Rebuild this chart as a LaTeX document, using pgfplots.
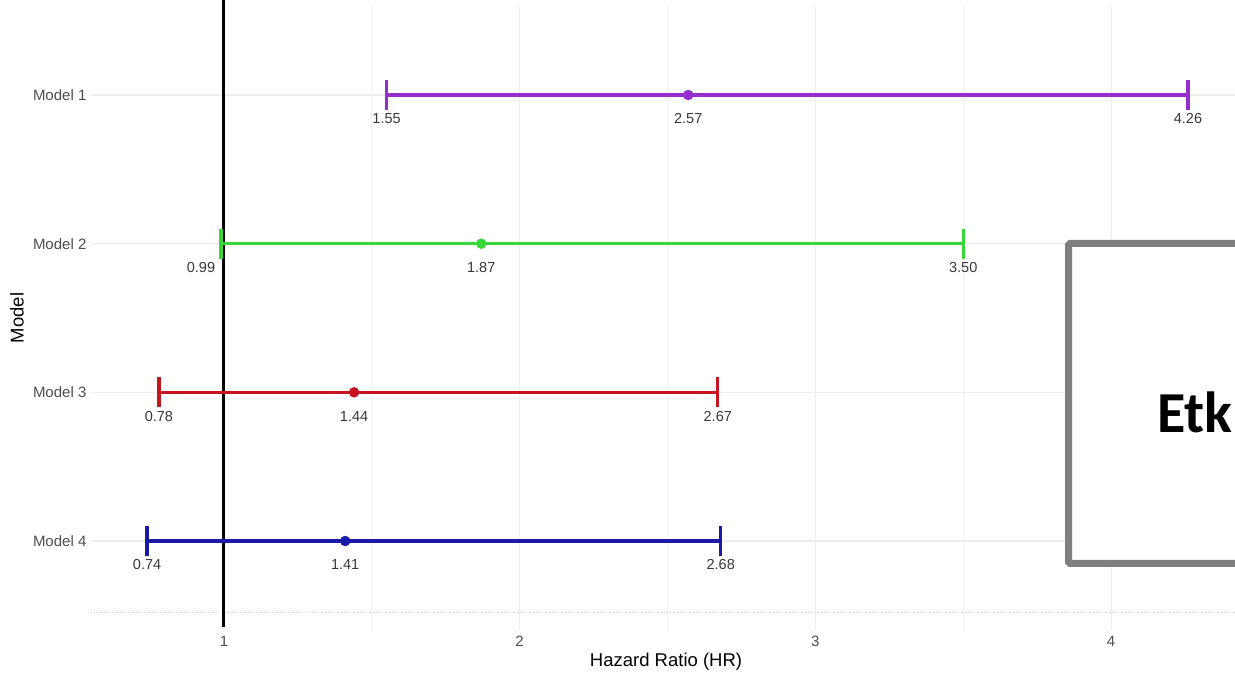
\documentclass[border=0pt]{standalone}
\usepackage{pgfplots}
\pgfplotsset{compat=1.18}
\usepackage{fontspec}
\setmainfont{Liberation Sans}
\newfontfamily\carlito{Carlito}
\definecolor{cPurple}{RGB}{150,45,205}
\definecolor{cGreen}{RGB}{55,215,55}
\definecolor{cRed}{RGB}{200,20,30}
\definecolor{cBlue}{RGB}{25,25,170}
\definecolor{tickgray}{RGB}{77,77,77}
\definecolor{labgray}{RGB}{55,55,55}
\begin{document}
\begin{tikzpicture}[x=1pt,y=1pt]
\begin{axis}[
  scale only axis, width=1150.3pt, height=624.4pt,
  xmin=0.55, xmax=4.44, ymin=0.4, ymax=4.6,
  axis line style={draw=none}, tick style={draw=none},
  xtick={1,2,3,4}, minor xtick={1.5,2.5,3.5},
  ytick={1,2,3,4}, yticklabels={Model 4,Model 3,Model 2,Model 1},
  grid=both,
  major grid style={color=black!7, line width=1.1pt},
  minor grid style={color=black!5, line width=0.8pt},
  clip=false,
  /pgf/number format/assume math mode=true,
  ticklabel style={font=\fontsize{15}{18}\selectfont, text=tickgray},
  xticklabel style={yshift=-2pt},
  yticklabel style={xshift=-1pt},
  xlabel={Hazard Ratio (HR)}, ylabel={Model},
  label style={font=\fontsize{18.5}{22}\selectfont, text=black},
  xlabel style={at={(axis description cs:0.5,0)}, anchor=center, yshift=-32pt},
  ylabel style={at={(axis description cs:-0.0642,0.5)}, anchor=center},
]
\coordinate (O) at (rel axis cs:0,0);
% dotted baseline
\draw[black!18, dotted, line width=1.2pt] (axis cs:0.55,0.52) -- (axis cs:4.44,0.52);
% reference line at HR = 1
\draw[black, line width=3pt] (axis cs:1,0.42) -- (axis cs:1,4.64);
% Model 1
\addplot[cPurple, line width=3.2pt, mark=|, mark size=15pt] coordinates {(1.55,4) (4.26,4)};
\addplot[cPurple, only marks, mark=*, mark size=5pt] coordinates {(2.57,4)};
% Model 2
\addplot[cGreen, line width=3.2pt, mark=|, mark size=15pt] coordinates {(0.99,3) (3.50,3)};
\addplot[cGreen, only marks, mark=*, mark size=5pt] coordinates {(1.87,3)};
% Model 3
\addplot[cRed, line width=3.2pt, mark=|, mark size=15pt] coordinates {(0.78,2) (2.67,2)};
\addplot[cRed, only marks, mark=*, mark size=5pt] coordinates {(1.44,2)};
% Model 4
\addplot[cBlue, line width=3.2pt, mark=|, mark size=15pt] coordinates {(0.74,1) (2.68,1)};
\addplot[cBlue, only marks, mark=*, mark size=5pt] coordinates {(1.41,1)};
% value labels
\begin{scope}[every node/.style={font=\fontsize{14.5}{17}\selectfont, text=labgray, anchor=center, yshift=-24pt}]
\node at (axis cs:1.55,4) {1.55};
\node at (axis cs:2.57,4) {2.57};
\node at (axis cs:4.26,4) {4.26};
\node[xshift=-20pt] at (axis cs:0.99,3) {0.99};
\node at (axis cs:1.87,3) {1.87};
\node at (axis cs:3.50,3) {3.50};
\node at (axis cs:0.78,2) {0.78};
\node at (axis cs:1.44,2) {1.44};
\node at (axis cs:2.67,2) {2.67};
\node at (axis cs:0.74,1) {0.74};
\node at (axis cs:1.41,1) {1.41};
\node at (axis cs:2.68,1) {2.68};
\end{scope}
\end{axis}
\pgfresetboundingbox
\begin{scope}[shift={(O)}, shift={(-90.9,-43.8)}]
\path[use as bounding box] (0,0) rectangle (1235,674);
\clip (0,0) rectangle (1235,674);
\draw[draw=black!50, fill=white, line width=7pt, rounded corners=1.5pt] (1068.5,110.5) rectangle (1300,430.5);
\node[anchor=base west, inner sep=0pt, font=\carlito\bfseries\fontsize{58}{60}\selectfont] at (1157,241) {Etk};
\end{scope}
\end{tikzpicture}
\end{document}
